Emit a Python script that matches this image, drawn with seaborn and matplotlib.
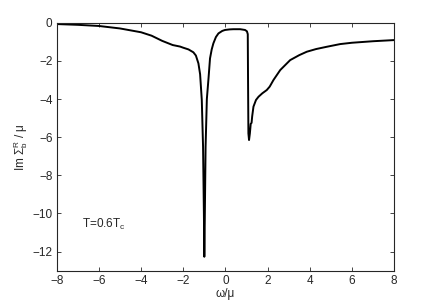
import matplotlib
matplotlib.use("Agg")
import matplotlib.pyplot as plt
import pandas as pd
import seaborn as sns

# values
omega = [-8.0, -7.0, -6.0, -5.0, -4.0, -3.5, -3.0, -2.5, -2.15, -2.0, -1.75,
         -1.52, -1.4, -1.28, -1.2, -1.12, -1.06, -1.02, -1.0, -0.98, -0.94,
         -0.88, -0.8, -0.73, -0.65, -0.57, -0.45, -0.33, -0.15, -0.02, 0.2,
         0.38, 0.7, 0.93, 1.02, 1.06, 1.07, 1.09, 1.12, 1.16, 1.2, 1.24, 1.27,
         1.33, 1.45, 1.57, 1.75, 1.96, 2.1, 2.28, 2.6, 3.07, 3.5, 3.86, 4.3,
         4.81, 5.44, 6.0, 7.0, 8.0]
im_sigma = [-0.07, -0.11, -0.17, -0.3, -0.5, -0.68, -0.95, -1.17, -1.25, -1.31,
            -1.4, -1.55, -1.72, -2.13, -2.7, -4.05, -6.5, -10.0, -12.27, -10.5,
            -6.5, -4.0, -2.9, -1.87, -1.4, -1.08, -0.75, -0.56, -0.43, -0.38,
            -0.35, -0.34, -0.34, -0.38, -0.45, -0.6, -2.5, -5.8, -6.15, -5.8,
            -5.3, -5.25, -4.9, -4.4, -4.05, -3.88, -3.7, -3.53, -3.35, -3.0,
            -2.48, -1.96, -1.7, -1.52, -1.38, -1.26, -1.12, -1.05, -0.97, -0.91]

df = pd.DataFrame({"omega": omega, "im": im_sigma})

sns.set_style("ticks")
plt.rcParams["font.family"] = ["Liberation Sans", "DejaVu Sans"]
plt.rcParams["mathtext.fontset"] = "custom"
plt.rcParams["mathtext.rm"] = "Liberation Sans"
plt.rcParams["mathtext.it"] = "Liberation Sans"

fig = plt.figure(figsize=(4.36, 3.05), dpi=100)
ax = fig.add_axes([0.130, 0.1125, 0.774, 0.813])

sns.lineplot(data=df, x="omega", y="im", color="black", linewidth=1.4,
             sort=False, ax=ax)

ax.set_xlim(-8, 8)
ax.set_ylim(-13, 0)
ax.set_xticks(range(-8, 9, 2))
ax.set_yticks(range(-12, 1, 2))
ax.set_xticklabels(["\u22128", "\u22126", "\u22124", "\u22122", "0", "2", "4", "6", "8"])
ax.set_yticklabels(["\u221212", "\u221210", "\u22128", "\u22126", "\u22124", "\u22122", "0"])
ax.tick_params(direction="in", length=3, width=0.6, labelsize=8.5,
               top=True, right=True, pad=3)
for s in ax.spines.values():
    s.set_linewidth(0.8)

ax.set_xlabel("\u03c9/\u03bc", fontsize=8.5, labelpad=1)
ax.set_ylabel(r"Im $\mathrm{\Sigma}_b^R$ / " + "\u03bc", fontsize=8.5, labelpad=2)
ax.text(-6.8, -10.6, r"T=0.6T$_\mathrm{c}$", fontsize=8.5, va="center")

fig.savefig("out.png", dpi=100)
